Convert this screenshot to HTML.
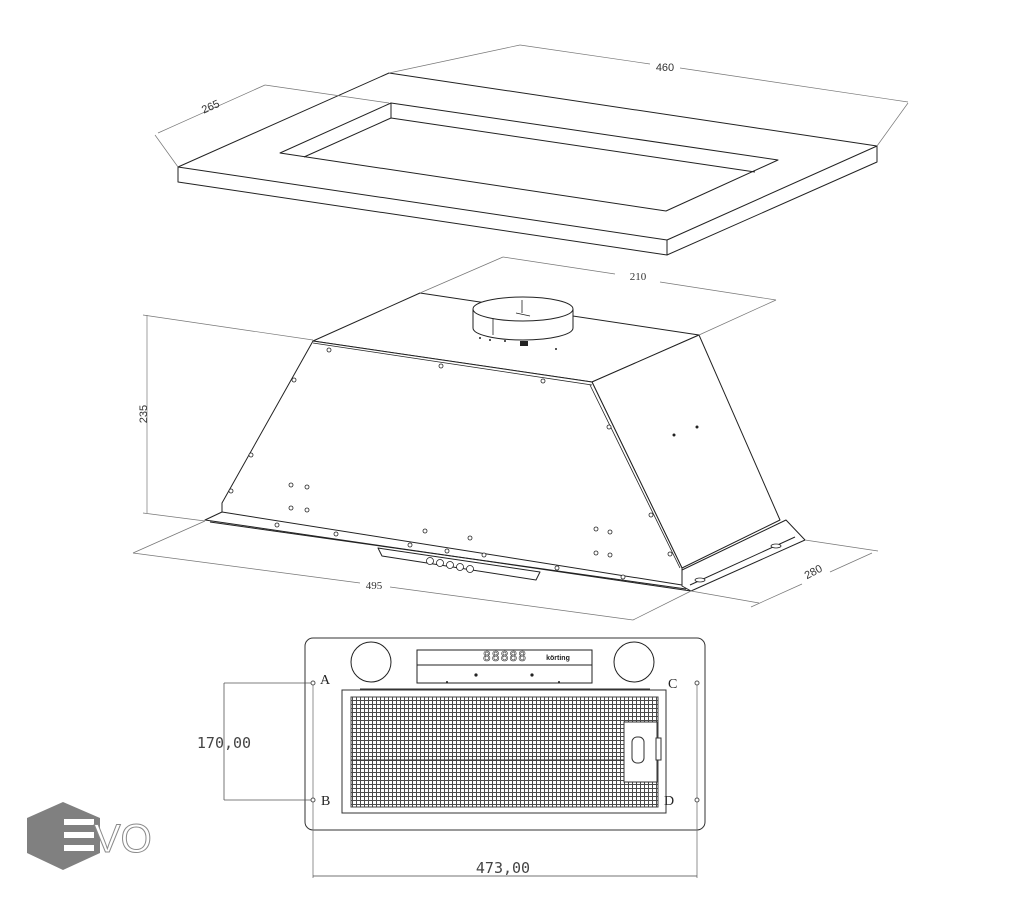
<!DOCTYPE html>
<html><head><meta charset="utf-8"><style>
html,body{margin:0;padding:0;background:#fff;}
svg{display:block;}
</style></head><body>
<svg width="1010" height="900" viewBox="0 0 1010 900" xmlns="http://www.w3.org/2000/svg">
<defs>
<pattern id="mesh" width="4" height="4" patternUnits="userSpaceOnUse">
<rect width="4" height="4" fill="#fff"/>
<path d="M0 0.5H4M0.5 0V4" stroke="#4a4a4a" stroke-width="1"/>
</pattern>
</defs>
<g fill="none" stroke="#222" stroke-width="1" stroke-linejoin="round">
<polygon points="178,167 389,73 877,146 667,240" fill="#fff"/>
<polyline points="178,167 178,182 667,255 877,162 877,146"/>
<line x1="667" y1="240" x2="667" y2="255"/>
<polygon points="280,153 391,103 778,160 666,211"/>
<polyline points="304,157 391,118 755,172"/>
<line x1="391" y1="103" x2="391" y2="118"/>
</g>
<g stroke="#777" stroke-width="0.7" fill="none">
<line x1="389" y1="73" x2="520" y2="45"/>
<line x1="877" y1="146" x2="908" y2="103"/>
<line x1="520" y1="45" x2="650" y2="64"/>
<line x1="680" y1="68" x2="908" y2="102"/>
<line x1="178" y1="167" x2="155" y2="135"/>
<line x1="389" y1="103" x2="265" y2="85"/>
<line x1="158" y1="133" x2="265" y2="85"/>
</g>
<text x="665" y="71" font-family="Liberation Sans,sans-serif" font-size="11" fill="#333" text-anchor="middle">460</text>
<text x="212" y="110" font-family="Liberation Sans,sans-serif" font-size="11" fill="#333" text-anchor="middle" transform="rotate(-24 212 110)">265</text>

<g fill="#fff" stroke="#222" stroke-width="1" stroke-linejoin="round">
<polygon points="313,341 420,293 699,335 592,382"/>
<polygon points="592,382 699,335 780,520 682,568"/>
<polygon points="313,341 592,382 682,568 682,586 222,513 222,503"/>
<polygon points="205,520 222,512 682,585 691,591"/>
<polygon points="682,570 786,520 805,540 691,591 682,586"/>
<polyline points="210,522 686,589"/>
<polyline points="690,585 795,537"/>
<polygon points="378,548 540,572 536,580 382,556"/>
<path d="M473,309 L473,328 A50,12 0 0 0 573,328 L573,309" />
<ellipse cx="523" cy="309" rx="50" ry="12"/>
</g>
<g stroke="#222" stroke-width="0.8" fill="none">
<line x1="522" y1="300" x2="522" y2="313"/><line x1="516" y1="313" x2="530" y2="316"/>
<line x1="493" y1="318" x2="493" y2="335"/>
<path d="M313,343 L592,385"/>
<path d="M590,385 L680,568"/>
</g>
<g fill="#fff" stroke="#222" stroke-width="0.8">
<circle cx="329" cy="350" r="2"/><circle cx="441" cy="366" r="2"/><circle cx="543" cy="381" r="2"/>
<circle cx="294" cy="380" r="2"/><circle cx="251" cy="455" r="2"/><circle cx="231" cy="491" r="2"/>
<circle cx="291" cy="485" r="2"/><circle cx="307" cy="487" r="2"/><circle cx="291" cy="508" r="2"/><circle cx="307" cy="510" r="2"/>
<circle cx="609" cy="427" r="2"/><circle cx="651" cy="515" r="2"/><circle cx="670" cy="554" r="2"/>
<circle cx="596" cy="529" r="2"/><circle cx="610" cy="532" r="2"/><circle cx="596" cy="553" r="2"/><circle cx="610" cy="555" r="2"/>
<circle cx="425" cy="531" r="2"/><circle cx="470" cy="538" r="2"/><circle cx="277" cy="525" r="2"/><circle cx="336" cy="534" r="2"/>
<circle cx="410" cy="545" r="2"/><circle cx="447" cy="551" r="2"/><circle cx="484" cy="555" r="2"/><circle cx="557" cy="568" r="2"/><circle cx="623" cy="577" r="2"/>
<circle cx="430" cy="561" r="3.5"/><circle cx="440" cy="563" r="3.5"/><circle cx="450" cy="565" r="3.5"/><circle cx="460" cy="567" r="3.5"/><circle cx="470" cy="569" r="3.5"/>
<ellipse cx="776" cy="546" rx="5" ry="2"/><ellipse cx="700" cy="580" rx="5" ry="2"/>
</g>
<g fill="#222"><circle cx="674" cy="435" r="1.5"/><circle cx="697" cy="427" r="1.5"/><circle cx="556" cy="349" r="1"/>
<rect x="520" y="341" width="8" height="5"/><circle cx="480" cy="338" r="1"/><circle cx="490" cy="340" r="1"/><circle cx="505" cy="341" r="1"/></g>
<g stroke="#777" stroke-width="0.7" fill="none">
<line x1="420" y1="293" x2="503" y2="257"/>
<line x1="699" y1="335" x2="776" y2="300"/>
<line x1="503" y1="257" x2="615" y2="274"/>
<line x1="660" y1="282" x2="776" y2="300"/>
<line x1="147" y1="315" x2="147" y2="513"/>
<line x1="143" y1="315" x2="313" y2="340"/>
<line x1="143" y1="513" x2="205" y2="521"/>
<line x1="205" y1="521" x2="133" y2="553"/>
<line x1="691" y1="591" x2="633" y2="620"/>
<line x1="133" y1="553" x2="360" y2="583"/>
<line x1="390" y1="587" x2="633" y2="620"/>
<line x1="691" y1="591" x2="759" y2="603"/>
<line x1="805" y1="540" x2="878" y2="551"/>
<line x1="751" y1="607" x2="802" y2="584"/>
<line x1="830" y1="572" x2="872" y2="553"/>
</g>
<g font-family="Liberation Serif,serif" font-size="11" fill="#333" text-anchor="middle">
<text x="638" y="280">210</text>
<text x="374" y="589">495</text>
</g>
<text x="147" y="414" font-family="Liberation Sans,sans-serif" font-size="11" fill="#333" text-anchor="middle" transform="rotate(-90 147 414)">235</text>
<text x="815" y="575" font-family="Liberation Sans,sans-serif" font-size="11" fill="#333" text-anchor="middle" transform="rotate(-28 815 575)">280</text>

<rect x="305" y="638" width="400" height="192" rx="8" fill="#fff" stroke="#333" stroke-width="1"/>
<circle cx="371" cy="662" r="20" fill="none" stroke="#222"/>
<circle cx="634" cy="662" r="20" fill="none" stroke="#222"/>
<rect x="417" y="650" width="175" height="33" fill="none" stroke="#222"/>
<line x1="417" y1="665" x2="592" y2="665" stroke="#222"/>
<text x="505" y="661" font-family="DejaVu Sans Mono,monospace" font-size="13" fill="none" stroke="#333" stroke-width="0.6" text-anchor="middle" letter-spacing="1">88888</text>
<text x="558" y="660" font-family="Liberation Sans,sans-serif" font-size="7" font-weight="bold" fill="#222" text-anchor="middle">körting</text>
<g fill="#222"><circle cx="476" cy="675" r="1.6"/><circle cx="532" cy="675" r="1.6"/><circle cx="447" cy="682" r="1"/><circle cx="559" cy="682" r="1"/></g>
<rect x="342" y="690" width="324" height="123" fill="#fff" stroke="#333"/>
<line x1="360" y1="689" x2="650" y2="689" stroke="#333"/>
<rect x="351" y="697" width="307" height="110" fill="url(#mesh)" stroke="#444"/>
<line x1="351" y1="760" x2="624" y2="760" stroke="#333"/>
<rect x="624" y="722" width="33" height="60" fill="#fff" stroke="#333"/>
<rect x="632" y="737" width="12" height="26" rx="5" fill="#fff" stroke="#333"/>
<rect x="656" y="738" width="5" height="22" fill="#fff" stroke="#333"/>
<g stroke="#777" stroke-width="0.8" fill="none">
<line x1="313" y1="683" x2="313" y2="878"/>
<line x1="697" y1="683" x2="697" y2="878"/>
<line x1="313" y1="876" x2="697" y2="876" stroke="#444"/>
<line x1="224" y1="683" x2="224" y2="800" stroke="#555"/>
<line x1="224" y1="683" x2="313" y2="683" stroke="#555"/>
<line x1="224" y1="800" x2="313" y2="800" stroke="#555"/>
</g>
<g fill="#fff" stroke="#555"><circle cx="313" cy="683" r="2"/><circle cx="313" cy="800" r="2"/><circle cx="697" cy="683" r="2"/><circle cx="697" cy="800" r="2"/></g>
<g font-family="Liberation Serif,serif" font-size="14" fill="#222">
<text x="320" y="684">A</text><text x="321" y="805">B</text><text x="668" y="688">C</text><text x="664" y="805">D</text>
</g>
<text x="224" y="748" font-family="DejaVu Sans Mono,monospace" font-size="15" fill="#444" text-anchor="middle">170,00</text>
<text x="503" y="873" font-family="DejaVu Sans Mono,monospace" font-size="15" fill="#444" text-anchor="middle">473,00</text>

<polygon points="63,802 100,818 100,853 63,870 27,853 27,818" fill="#808080"/>
<g fill="#fff"><rect x="64" y="819" width="30" height="6"/><rect x="64" y="832" width="30" height="6"/><rect x="64" y="845" width="30" height="6"/></g>
<text x="94" y="852" font-family="Liberation Sans,sans-serif" font-size="40" fill="#fff" stroke="#8a8a8a" stroke-width="1">VO</text>
</svg>
</body></html>
